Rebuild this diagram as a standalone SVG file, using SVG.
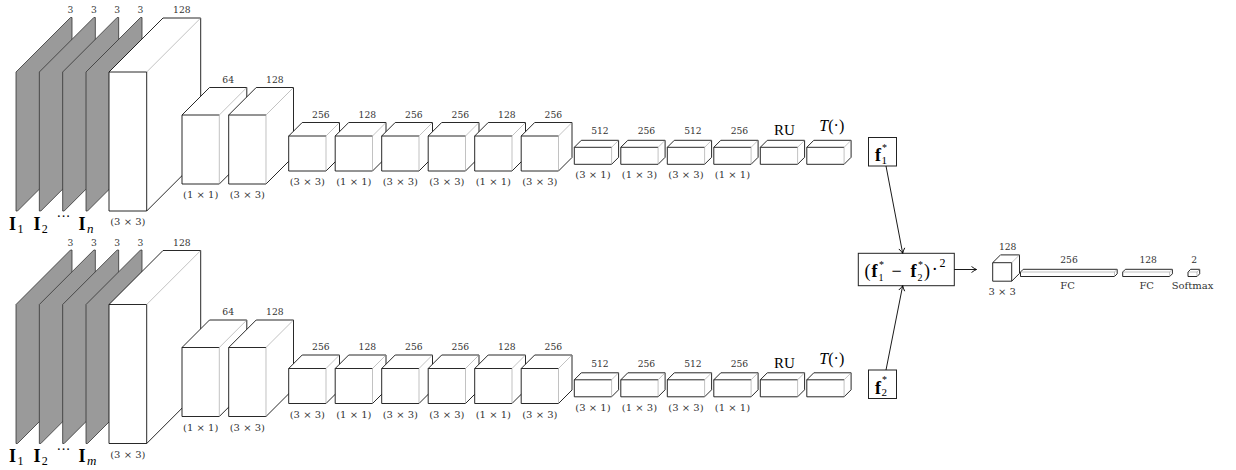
<svg xmlns="http://www.w3.org/2000/svg" width="1236" height="470" viewBox="0 0 1236 470">
<style>
.f{fill:#fff;stroke:#111;stroke-width:0.9;stroke-linejoin:round}
.g{fill:#9a9a9a;stroke:#333;stroke-width:0.8;stroke-linejoin:round}
.k{fill:none;stroke:#111;stroke-width:0.9}
.e{fill:none;stroke:#999;stroke-width:0.6}
.t{font-family:"DejaVu Serif",serif;font-size:9.2px;text-anchor:middle;fill:#333}
.d{font-family:"DejaVu Serif",serif;font-size:10px;text-anchor:middle;fill:#333}
.m{font-family:"Liberation Serif",serif;fill:#000}
.c{fill:none;stroke:#000;stroke-width:0.9}
.bx{fill:#fff;stroke:#222;stroke-width:1}
</style>
<defs>
<marker id="ah" viewBox="-6 -4 7 8" markerWidth="7" markerHeight="8" refX="0" refY="0" orient="auto" markerUnits="userSpaceOnUse"><path d="M-5,-3 Q-2,-0.8 0,0 Q-2,0.8 -5,3" fill="none" stroke="#000" stroke-width="0.9"/></marker>
<g id="slab"><polygon class="g" points="0,139 0,0 54.5,-54.5 56,-54.5 56,84.5 1.5,139"/></g>
<g id="big"><polygon class="f" points="0,139 0,0 54,-54 91.7,-54 91.7,85 37.7,139"/><path class="k" d="M0,0H37.7V139"/><path class="e" d="M37.7,0L91.7,-54"/></g>
<g id="mid"><polygon class="f" points="0,69 0,0 27.5,-27.5 64.8,-27.5 64.8,41.5 37.3,69"/><path class="k" d="M0,0H37.3"/><path class="e" d="M37.3,0V69M37.3,0L64.8,-27.5"/></g>
<g id="cube"><polygon class="f" points="0,35 0,0 13.5,-13.5 50.8,-13.5 50.8,21.5 37.3,35"/><path class="k" d="M0,0H37.3"/><path class="e" d="M37.3,0V35M37.3,0L50.8,-13.5"/></g>
<g id="flat"><polygon class="f" points="0,17 0,0 7,-7 44.3,-7 44.3,10 37.3,17"/><path class="k" d="M0,0H37.3"/><path class="e" d="M37.3,0V17M37.3,0L44.3,-7"/></g>
<g id="sq"><polygon class="f" points="0,18.5 0,0 7.8,-7.8 26.8,-7.8 26.8,10.7 19,18.5"/><path class="k" d="M0,0H19V18.5"/><path class="e" d="M19,0L26.8,-7.8"/></g>
<g id="fc1"><polygon class="f" points="0,4.5 0,0 2.7,-2.7 96.7,-2.7 96.7,1.8 94,4.5"/><path class="e" d="M0,0H94V4.5M94,0L96.7,-2.7"/></g>
<g id="fc2"><polygon class="f" points="0,4.5 0,0 2.7,-2.7 49.7,-2.7 49.7,1.8 47,4.5"/><path class="e" d="M0,0H47V4.5M47,0L49.7,-2.7"/></g>
<g id="sm"><polygon class="f" points="0,4.5 0,0 2.7,-2.7 11.7,-2.7 11.7,1.8 9,4.5"/><path class="e" d="M0,0H9V4.5M9,0L11.7,-2.7"/></g>
</defs>
<rect width="1236" height="470" fill="#fff"/>

<g id="top">
<g id="t-in1" transform="translate(16,72)"><use href="#slab"/><text class="t" x="54.5" y="-59">3</text></g>
<g id="t-in2" transform="translate(39.33,72)"><use href="#slab"/><text class="t" x="54.5" y="-59">3</text></g>
<g id="t-in3" transform="translate(62.67,72)"><use href="#slab"/><text class="t" x="54.5" y="-59">3</text></g>
<g id="t-in4" transform="translate(86,72)"><use href="#slab"/><text class="t" x="54.5" y="-59">3</text></g>
<g id="t-conv1" transform="translate(109,72)"><use href="#big"/><text class="t" x="72.85" y="-59">128</text><text class="d" x="18.85" y="153">(3 × 3)</text></g>
<g id="t-conv2" transform="translate(182,115)"><use href="#mid"/><text class="t" x="46.15" y="-32.5">64</text><text class="d" x="18.65" y="83">(1 × 1)</text></g>
<g id="t-conv3" transform="translate(228.7,115)"><use href="#mid"/><text class="t" x="46.15" y="-32.5">128</text><text class="d" x="18.65" y="83">(3 × 3)</text></g>
<g id="t-conv4" transform="translate(288.7,136)"><use href="#cube"/><text class="t" x="32.15" y="-18.5">256</text><text class="d" x="18.65" y="49">(3 × 3)</text></g>
<g id="t-conv5" transform="translate(335.2,136)"><use href="#cube"/><text class="t" x="32.15" y="-18.5">128</text><text class="d" x="18.65" y="49">(1 × 1)</text></g>
<g id="t-conv6" transform="translate(381.7,136)"><use href="#cube"/><text class="t" x="32.15" y="-18.5">256</text><text class="d" x="18.65" y="49">(3 × 3)</text></g>
<g id="t-conv7" transform="translate(428.2,136)"><use href="#cube"/><text class="t" x="32.15" y="-18.5">256</text><text class="d" x="18.65" y="49">(3 × 3)</text></g>
<g id="t-conv8" transform="translate(474.7,136)"><use href="#cube"/><text class="t" x="32.15" y="-18.5">128</text><text class="d" x="18.65" y="49">(1 × 1)</text></g>
<g id="t-conv9" transform="translate(521.2,136)"><use href="#cube"/><text class="t" x="32.15" y="-18.5">256</text><text class="d" x="18.65" y="49">(3 × 3)</text></g>
<g id="t-conv10" transform="translate(574.3,147.3)"><use href="#flat"/><text class="t" x="25.65" y="-13">512</text><text class="d" x="18.65" y="31">(3 × 1)</text></g>
<g id="t-conv11" transform="translate(620.8,147.3)"><use href="#flat"/><text class="t" x="25.65" y="-13">256</text><text class="d" x="18.65" y="31">(1 × 3)</text></g>
<g id="t-conv12" transform="translate(667.3,147.3)"><use href="#flat"/><text class="t" x="25.65" y="-13">512</text><text class="d" x="18.65" y="31">(3 × 3)</text></g>
<g id="t-conv13" transform="translate(713.8,147.3)"><use href="#flat"/><text class="t" x="25.65" y="-13">256</text><text class="d" x="18.65" y="31">(1 × 1)</text></g>
<g id="t-ru" transform="translate(760.3,147.3)"><use href="#flat"/><text class="m" x="24" y="-12.3" font-size="15" text-anchor="middle">RU</text></g>
<g id="t-T" transform="translate(806.8,147.3)"><use href="#flat"/><text class="m" x="25" y="-16" font-size="16" text-anchor="middle"><tspan font-style="italic">T</tspan>(·)</text></g>
<g id="t-labels" class="m">
<text x="9" y="229.5" font-size="18" font-weight="bold">I</text><text x="17.5" y="232.5" font-size="12">1</text>
<text x="33.5" y="229.5" font-size="18" font-weight="bold">I</text><text x="41.8" y="232.5" font-size="12">2</text>
<text x="56.5" y="221" font-size="14">···</text>
<text x="78.5" y="229.5" font-size="18" font-weight="bold">I</text><text x="87" y="232.5" font-size="13" font-style="italic">n</text>
</g>
<g id="t-f1">
<rect class="bx" x="868.5" y="137.5" width="28" height="28.5"/>
<text class="m" x="875" y="161" font-size="18" font-weight="bold">f</text>
<text class="m" x="882" y="150.5" font-size="10">*</text>
<text class="m" x="881.5" y="163.5" font-size="11">1</text>
</g>
</g>

<g id="bottom" transform="translate(0,232.5)">
<g id="b-in1" transform="translate(16,72)"><use href="#slab"/><text class="t" x="54.5" y="-59">3</text></g>
<g id="b-in2" transform="translate(39.33,72)"><use href="#slab"/><text class="t" x="54.5" y="-59">3</text></g>
<g id="b-in3" transform="translate(62.67,72)"><use href="#slab"/><text class="t" x="54.5" y="-59">3</text></g>
<g id="b-in4" transform="translate(86,72)"><use href="#slab"/><text class="t" x="54.5" y="-59">3</text></g>
<g id="b-conv1" transform="translate(109,72)"><use href="#big"/><text class="t" x="72.85" y="-59">128</text><text class="d" x="18.85" y="153">(3 × 3)</text></g>
<g id="b-conv2" transform="translate(182,115)"><use href="#mid"/><text class="t" x="46.15" y="-32.5">64</text><text class="d" x="18.65" y="83">(1 × 1)</text></g>
<g id="b-conv3" transform="translate(228.7,115)"><use href="#mid"/><text class="t" x="46.15" y="-32.5">128</text><text class="d" x="18.65" y="83">(3 × 3)</text></g>
<g id="b-conv4" transform="translate(288.7,136)"><use href="#cube"/><text class="t" x="32.15" y="-18.5">256</text><text class="d" x="18.65" y="49">(3 × 3)</text></g>
<g id="b-conv5" transform="translate(335.2,136)"><use href="#cube"/><text class="t" x="32.15" y="-18.5">128</text><text class="d" x="18.65" y="49">(1 × 1)</text></g>
<g id="b-conv6" transform="translate(381.7,136)"><use href="#cube"/><text class="t" x="32.15" y="-18.5">256</text><text class="d" x="18.65" y="49">(3 × 3)</text></g>
<g id="b-conv7" transform="translate(428.2,136)"><use href="#cube"/><text class="t" x="32.15" y="-18.5">256</text><text class="d" x="18.65" y="49">(3 × 3)</text></g>
<g id="b-conv8" transform="translate(474.7,136)"><use href="#cube"/><text class="t" x="32.15" y="-18.5">128</text><text class="d" x="18.65" y="49">(1 × 1)</text></g>
<g id="b-conv9" transform="translate(521.2,136)"><use href="#cube"/><text class="t" x="32.15" y="-18.5">256</text><text class="d" x="18.65" y="49">(3 × 3)</text></g>
<g id="b-conv10" transform="translate(574.3,147.3)"><use href="#flat"/><text class="t" x="25.65" y="-13">512</text><text class="d" x="18.65" y="31">(3 × 1)</text></g>
<g id="b-conv11" transform="translate(620.8,147.3)"><use href="#flat"/><text class="t" x="25.65" y="-13">256</text><text class="d" x="18.65" y="31">(1 × 3)</text></g>
<g id="b-conv12" transform="translate(667.3,147.3)"><use href="#flat"/><text class="t" x="25.65" y="-13">512</text><text class="d" x="18.65" y="31">(3 × 3)</text></g>
<g id="b-conv13" transform="translate(713.8,147.3)"><use href="#flat"/><text class="t" x="25.65" y="-13">256</text><text class="d" x="18.65" y="31">(1 × 1)</text></g>
<g id="b-ru" transform="translate(760.3,147.3)"><use href="#flat"/><text class="m" x="24" y="-12.3" font-size="15" text-anchor="middle">RU</text></g>
<g id="b-T" transform="translate(806.8,147.3)"><use href="#flat"/><text class="m" x="25" y="-16" font-size="16" text-anchor="middle"><tspan font-style="italic">T</tspan>(·)</text></g>
<g id="b-labels" class="m">
<text x="9" y="229.5" font-size="18" font-weight="bold">I</text><text x="17.5" y="232.5" font-size="12">1</text>
<text x="33.5" y="229.5" font-size="18" font-weight="bold">I</text><text x="41.8" y="232.5" font-size="12">2</text>
<text x="56.5" y="221" font-size="14">···</text>
<text x="78.5" y="229.5" font-size="18" font-weight="bold">I</text><text x="87" y="232.5" font-size="13" font-style="italic">m</text>
</g>
<g id="b-f2">
<rect class="bx" x="868.5" y="137.5" width="28" height="28.5"/>
<text class="m" x="875" y="161" font-size="18" font-weight="bold">f</text>
<text class="m" x="882" y="150.5" font-size="10">*</text>
<text class="m" x="881.5" y="163.5" font-size="11">2</text>
</g>
</g>

<g id="diff">
<rect class="bx" x="858.3" y="253.3" width="96" height="32.4"/>
<text class="m" y="276.5" font-size="18"><tspan x="864.5">(</tspan><tspan x="871.5" font-weight="bold">f</tspan><tspan x="879" y="268" font-size="10">*</tspan><tspan x="878.5" y="281" font-size="10">1</tspan><tspan x="891.5" y="276.5">−</tspan><tspan x="910.5" font-weight="bold">f</tspan><tspan x="918" y="268" font-size="10">*</tspan><tspan x="917.5" y="281" font-size="10">2</tspan><tspan x="924" y="276.5">)</tspan><tspan x="932.5" y="270">.</tspan><tspan x="939.5" y="266.5" font-size="12">2</tspan></text>
</g>

<g id="head">
<g id="h-conv" transform="translate(992.7,262.7)"><use href="#sq"/><text class="t" x="15" y="-13.2">128</text><text class="d" x="9.5" y="32">3 × 3</text></g>
<g id="h-fc1" transform="translate(1020.5,272)"><use href="#fc1"/><text class="t" x="48.5" y="-9">256</text><text class="d" x="47" y="17">FC</text></g>
<g id="h-fc2" transform="translate(1122.7,272)"><use href="#fc2"/><text class="t" x="25.5" y="-9">128</text><text class="d" x="24" y="17">FC</text></g>
<g id="h-sm" transform="translate(1188,272)"><use href="#sm"/><text class="t" x="6.3" y="-9">2</text><text class="d" x="4.5" y="17">Softmax</text></g>
</g>

<g id="connectors">
<line class="c" x1="886" y1="166" x2="902.7" y2="253.3" marker-end="url(#ah)"/>
<line class="c" x1="886" y1="370" x2="902.7" y2="285.7" marker-end="url(#ah)"/>
<line class="c" x1="954.3" y1="269.5" x2="976.5" y2="269.5" marker-end="url(#ah)"/>
</g>
</svg>
